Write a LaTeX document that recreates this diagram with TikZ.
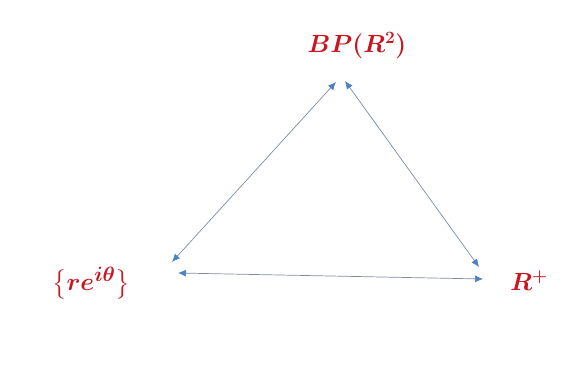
\documentclass[tikz,border=0pt]{standalone}
\usepackage{amsmath,bm}
\usetikzlibrary{positioning, arrows.meta, calc}
\definecolor{lblred}{RGB}{200,22,32}
\definecolor{arrblue}{RGB}{78,128,196}
\definecolor{lineblue}{RGB}{125,140,165}
\tikzstyle{lbl}=[text=lblred,font=\fontsize{26}{30}\selectfont\boldmath,inner sep=0pt]
\tikzstyle{link}=[draw=lineblue,line width=0.7pt,{Latex[length=8pt,width=7pt,color=arrblue]}-{Latex[length=8pt,width=7pt,color=arrblue]}]

\begin{document}
\begin{tikzpicture}[x=1pt,y=-1pt]
            \useasboundingbox (0,0) rectangle (563,377);
            \node[lbl] (BP) at (357,46) {$BP(R^2)$};
            \node[lbl, font=\fontsize{29}{33}\selectfont\boldmath] (polar) at (91,283) {$\bigl\{re^{i\theta}\bigr\}$};
            \node[lbl, font=\fontsize{23}{27}\selectfont\boldmath] (Rplus) at (529,281) {$R^+$};
            \draw[link] ($(polar)+(81,-21)$) -- ($(BP)+(-21,36)$);
            \draw[link] ($(BP)+(-12,35)$) -- ($(Rplus)+(-50,-14)$);
            \draw[link] ($(polar)+(87,-10)$) -- ($(Rplus)+(-46,-2)$);
\end{tikzpicture}
\end{document}
